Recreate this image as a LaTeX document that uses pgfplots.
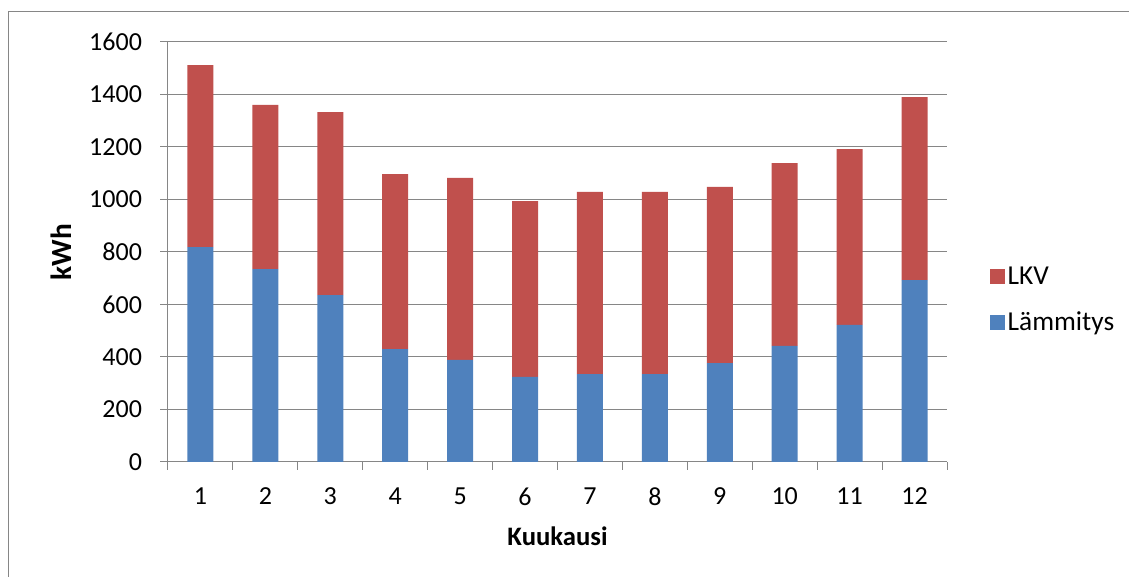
\documentclass[border=0pt]{standalone}
\usepackage{pgfplots}
\pgfplotsset{compat=1.18}
\usepackage{fontspec}
\setmainfont{Carlito}
\definecolor{xred}{HTML}{C0504D}
\definecolor{xblue}{HTML}{4F81BD}
\definecolor{xgrid}{HTML}{868686}
\begin{document}
\begin{tikzpicture}
\useasboundingbox (0pt,0pt) rectangle (846.75pt,432.75pt);
\draw[xgrid, line width=0.75pt] (6pt,-4pt) rectangle (850pt,423.75pt);
\begin{axis}[
  at={(126pt,86.25pt)}, anchor=south west,
  scale only axis, width=584.25pt, height=315pt,
  xmin=0.5, xmax=12.5, ymin=0, ymax=1600,
  ybar stacked, bar width=19.5pt,
  xtick={1,...,12},
  minor xtick={0.5,1.5,...,12.5},
  ytick={0,200,...,1600},
  axis lines*=left,
  axis line style={xgrid, line width=0.75pt},
  tick align=outside,
  major tick length=6pt, minor tick length=6pt,
  major x tick style={draw=none},
  minor x tick style={xgrid, line width=0.75pt},
  y tick style={xgrid, line width=0.75pt},
  ymajorgrids, grid style={xgrid, line width=0.75pt},
  tick label style={font=\fontsize{19.5}{21}\selectfont},
  /pgf/number format/assume math mode=true,
  /pgf/number format/1000 sep={},
  xticklabel style={yshift=-10pt},
  yticklabel style={xshift=-10pt},
  xlabel={Kuukausi}, ylabel={kWh},
  xlabel style={font=\bfseries\fontsize{20}{22}\selectfont, at={(axis description cs:0.5,-0.176)}, anchor=center},
  ylabel style={font=\bfseries\fontsize{22}{24}\selectfont, at={(axis description cs:-0.137,0.5)}, anchor=center, rotate=0},
  legend style={draw=none, fill=none, at={(1.055,0.386)}, anchor=west, inner sep=0pt,
    font=\fontsize{20.5}{22}\selectfont, row sep=15pt, legend cell align=left},
  reverse legend,
  legend image code/.code={\fill[#1] (0pt,-5.6pt) rectangle (11.2pt,5.6pt);},
]
\addplot[fill=xblue, draw=none] coordinates {(1,819) (2,735) (3,636) (4,430) (5,389) (6,324) (7,335) (8,335) (9,377) (10,442) (11,522) (12,693)};
\addlegendentry{Lämmitys}
\addplot[fill=xred, draw=none] coordinates {(1,693) (2,625) (3,697) (4,667) (5,693) (6,670) (7,694) (8,694) (9,671) (10,697) (11,670) (12,697)};
\addlegendentry{LKV}
\end{axis}
\end{tikzpicture}
\end{document}
